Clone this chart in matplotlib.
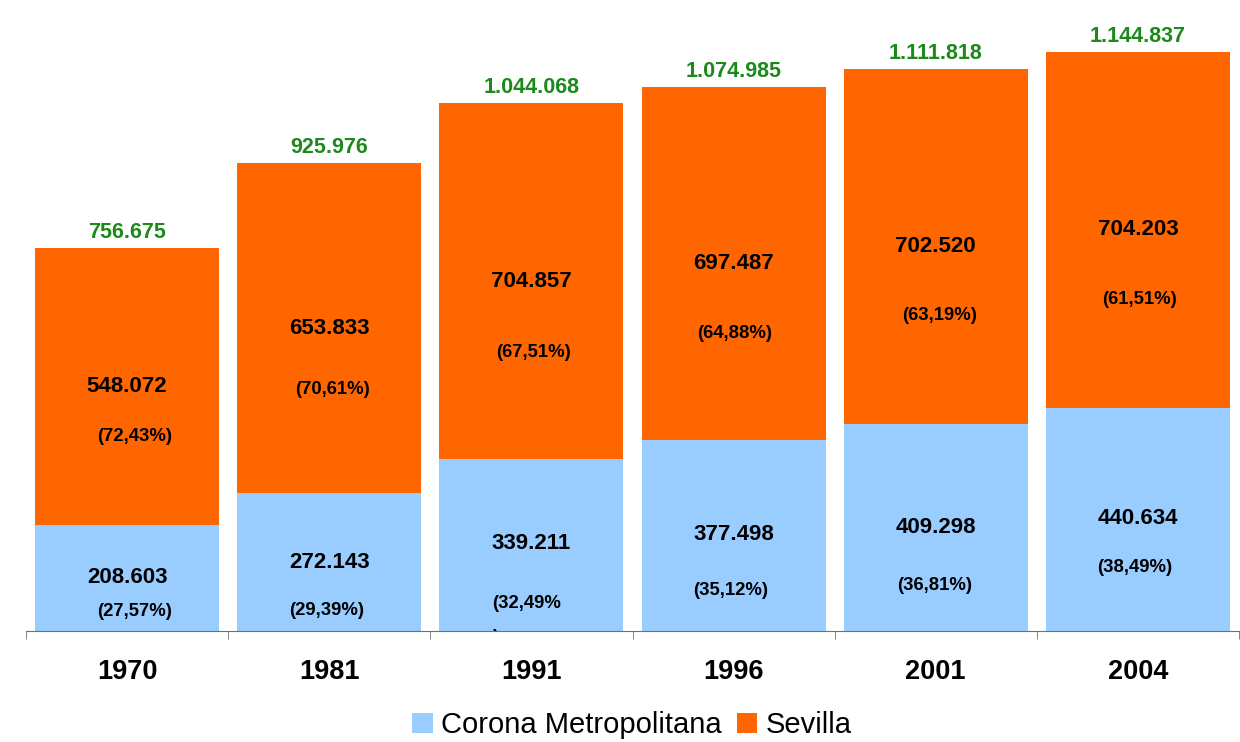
import numpy as np
import matplotlib
matplotlib.use("Agg")
import matplotlib.pyplot as plt

plt.rcParams['font.family'] = ['Liberation Sans', 'DejaVu Sans']

years = ["1970", "1981", "1991", "1996", "2001", "2004"]
corona = [208603, 272143, 339211, 377498, 409298, 440634]
sevilla = [548072, 653833, 704857, 697487, 702520, 704203]
corona_pct = ["(27,57%)", "(29,39%)", "(32,49%\n)", "(35,12%)", "(36,81%)", "(38,49%)"]
sevilla_pct = ["(72,43%)", "(70,61%)", "(67,51%)", "(64,88%)", "(63,19%)", "(61,51%)"]
totals = ["756.675", "925.976", "1.044.068", "1.074.985", "1.111.818", "1.144.837"]

def fmt(v):
    return "{:,}".format(v).replace(",", ".")

# label heights (data units)
corona_val_y = [104800, 136400, 172000, 189800, 203700, 221500]
corona_pct_y = [39500, 41500, 53400, 79100, 89000, 126500]
sevilla_val_y = [482500, 597100, 690100, 725700, 759300, 792900]
sevilla_pct_y = [383600, 476500, 549700, 587300, 622800, 654500]
pct_dx = [0.035, -0.015, 0.0, -0.015, -0.008, -0.015]
spct_dx = [0.037, 0.015, 0.01, 0.005, 0.02, 0.01]

fig = plt.figure(figsize=(12.4, 7.42), dpi=100)
ax = fig.add_axes([26 / 1240, 111 / 742, 1213 / 1240, (631 - 24) / 742])

x = np.arange(len(years))
blue = '#99CCFF'
orange = '#FF6600'
ax.bar(x, corona, width=0.91, color=blue, label='Corona Metropolitana')
ax.bar(x, sevilla, width=0.91, bottom=corona, color=orange, label='Sevilla')

tot = np.array(corona) + np.array(sevilla)
for i in range(len(years)):
    ax.text(x[i], corona_val_y[i], fmt(corona[i]), ha='center', va='center',
            fontsize=16, fontweight='bold')
    if '\n' in corona_pct[i]:
        # label wrapped in the original: the ")" drops onto the axis line
        first, rest = corona_pct[i].split('\n')
        ax.text(x[i] - 0.195, corona_pct_y[i], first, ha='left', va='center',
                fontsize=13.3, fontweight='bold')
        ax.text(x[i] - 0.19, 3000, rest, ha='left', va='top',
                fontsize=13.3, fontweight='bold', clip_on=True)
    else:
        ax.text(x[i] + pct_dx[i], corona_pct_y[i], corona_pct[i], ha='center', va='center',
                fontsize=13.3, fontweight='bold')
    ax.text(x[i], sevilla_val_y[i], fmt(sevilla[i]), ha='center', va='center',
            fontsize=16, fontweight='bold')
    ax.text(x[i] + spct_dx[i], sevilla_pct_y[i], sevilla_pct[i], ha='center', va='center',
            fontsize=13.3, fontweight='bold')
    ax.text(x[i], tot[i] + 10000, totals[i], ha='center', va='bottom',
            fontsize=15.5, fontweight='bold', color='#1B8A1B')

ax.set_xlim(-0.5, 5.5)
ax.set_ylim(0, 1200000)
for s in ['top', 'right', 'left']:
    ax.spines[s].set_visible(False)
ax.spines['bottom'].set_color('#707070')
ax.set_yticks([])
ax.set_xticks(x)
ax.set_xticklabels(years, fontsize=19.5, fontweight='bold')
ax.tick_params(axis='x', which='major', length=0, pad=20)
ax.set_xticks(np.arange(-0.5, 6.0, 1.0), minor=True)
ax.tick_params(axis='x', which='minor', length=6, color='#707070', direction='out')

fig.legend(loc='center', bbox_to_anchor=(0.5 + 12 / 1240, 17 / 742), ncol=2, frameon=False,
           fontsize=21, handlelength=0.69, handleheight=0.69, handletextpad=0.28,
           columnspacing=0.55, borderpad=0, borderaxespad=0)

fig.savefig("out.png", dpi=100)
